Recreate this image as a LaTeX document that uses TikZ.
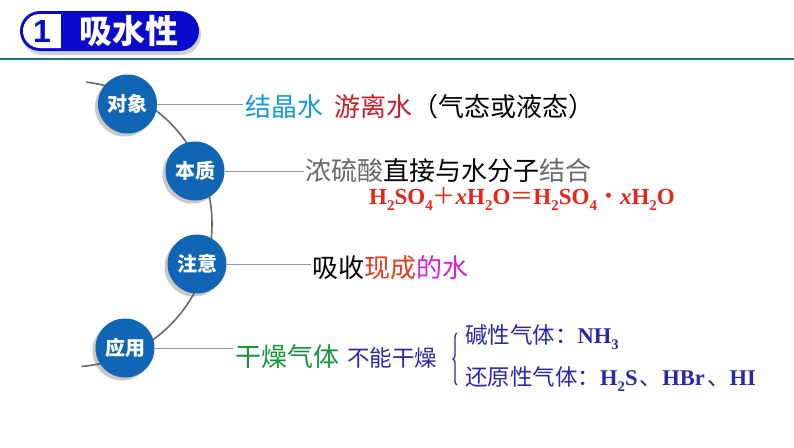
\documentclass[tikz,border=0pt]{standalone}
\usepackage{fontspec}
\setmainfont{Liberation Serif}
\newfontfamily\cjk{Noto Sans CJK SC}
\newfontfamily\hsans{Liberation Sans}
\usetikzlibrary{shadows,decorations.pathreplacing}
\definecolor{ballblue}{RGB}{16,102,180}
\definecolor{hblue}{RGB}{10,10,205}
\definecolor{tealline}{RGB}{30,118,118}
\definecolor{arcgray}{RGB}{105,105,105}
\definecolor{linkgray}{RGB}{150,150,150}
\definecolor{cyantxt}{RGB}{20,155,215}
\definecolor{redtxt}{RGB}{200,30,40}
\definecolor{graytxt}{RGB}{105,105,105}
\definecolor{eqred}{RGB}{235,35,25}
\definecolor{orangered}{RGB}{225,60,30}
\definecolor{magtxt}{RGB}{220,30,220}
\definecolor{greentxt}{RGB}{20,150,60}
\definecolor{dblue}{RGB}{40,40,170}
\newcommand\sbs[1]{\raisebox{-0.28em}{\scalebox{0.65}{#1}}}
\begin{document}
\begin{tikzpicture}[x=1pt,y=-1pt,
  ball/.style={circle,fill=ballblue,minimum size=59pt,inner sep=0pt,text=white,
    font=\cjk\bfseries\fontsize{20}{20}\selectfont,
    drop shadow={shadow xshift=-3pt,shadow yshift=-3pt,opacity=0.3,fill=black!70}},
  link/.style={draw=linkgray,line width=1pt},
  txt/.style={anchor=base west,inner sep=0pt,font=\cjk\fontsize{26}{26}\selectfont},
  listtxt/.style={anchor=base west,inner sep=0pt,text=dblue,font=\cjk\fontsize{22.5}{22.5}\selectfont}]
\useasboundingbox[fill=white] (0,0) rectangle (794,447);

% header
\path[fill=hblue,rounded corners=20pt,
  drop shadow={shadow xshift=2pt,shadow yshift=-4pt,opacity=0.3,fill=black!60}]
  (20,11) rectangle (199,51);
\fill[white,rounded corners=17pt] (23,14) rectangle (80,48);
\fill[hblue] (61,12) rectangle (86,50);
\node[text=hblue,font=\hsans\bfseries\fontsize{32}{32}\selectfont,inner sep=0pt] (hnum) at (42,31.5) {1};
\node[text=white,font=\cjk\bfseries\fontsize{33}{33}\selectfont,inner sep=0pt] (htitle) at (129,31) {吸水性};
\draw[tealline,line width=2pt] (0,59) -- (794,59);

% arc
\draw[arcgray,line width=1.6pt] (86.4,82.1) arc[start angle=-83,end angle=85,radius=143];

% circles
\node[ball] (c1) at (127.5,104) {对象};
\node[ball] (c2) at (195,171) {本质};
\node[ball] (c3) at (197,264) {注意};
\node[ball] (c4) at (125,348) {应用};

% texts
\node[txt] (t1) at (245,116) {\textcolor{cyantxt}{结晶水}\hspace{0.45em}\textcolor{redtxt}{游离水}（气态或液态）};
\node[txt] (t2) at (305,180) {\textcolor{graytxt}{浓硫酸}直接与水分子\textcolor{graytxt}{结合}};
\node[anchor=base west,inner sep=0pt,text=eqred,font=\bfseries\fontsize{23}{23}\selectfont] (eq) at (369,204)
  {H\sbs{2}SO\sbs{4}{\cjk\mdseries ＋}\textit{x}H\sbs{2}O{\cjk\mdseries ＝}H\sbs{2}SO\sbs{4}{\cjk\mdseries ・}\textit{x}H\sbs{2}O};
\node[txt] (t3) at (312,277) {吸收\textcolor{orangered}{现成}\textcolor{magtxt}{的水}};
\node[txt,text=greentxt] (t4) at (235,366) {干燥气体};
\node[listtxt] (t4b) at (347,366) {不能干燥};

% connectors
\draw[link] (c1.east) -- ([xshift=-2pt]t1.west |- c1.east);
\draw[link] (c2.east) -- ([xshift=-1pt]t2.west |- c2.east);
\draw[link] (c3.east) -- ([xshift=-1pt]t3.west |- c3.east);
\draw[link] (c4.east) -- ([xshift=-2pt]t4.west |- c4.east);

% brace and list
\coordinate (br1) at (457,385);
\coordinate (br2) at (457,333);
\draw[dblue,line width=1.3pt,decorate,decoration={brace,amplitude=4pt}] (br1) -- (br2);
\node[listtxt] (l1) at (465,343) {碱性气体：{\rmfamily\bfseries NH\sbs{3}}};
\node[listtxt] (l2) at (465,385) {还原性气体：{\rmfamily\bfseries H\sbs{2}S\hspace{0.1em}}、{\rmfamily\bfseries HBr\hspace{0.1em}}、{\rmfamily\bfseries HI}};
\end{tikzpicture}
\end{document}
